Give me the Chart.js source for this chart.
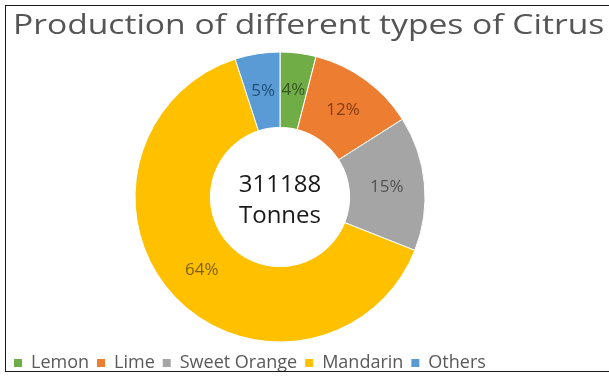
<!DOCTYPE html>
<html><head><meta charset="utf-8">
<script src="https://cdn.jsdelivr.net/npm/chart.js@4.4.1/dist/chart.umd.min.js"></script>
<style>
html,body{margin:0;padding:0;background:#fff;overflow:hidden;width:609px;height:377px;}
#wrap{position:absolute;left:6px;top:6px;width:603px;height:376px;}
#frame{position:absolute;left:5px;top:5px;width:620px;height:365px;border:1px solid #1a1a1a;border-right:none;pointer-events:none;}
</style></head><body>
<div id="wrap"><canvas id="c" width="603" height="376"></canvas></div>
<div id="frame"></div>
<script>
const titleText = 'Production of different types of Citrus';
const categories = ['Lemon', 'Lime', 'Sweet Orange', 'Mandarin', 'Others'];
const shares = [4, 12, 15, 64, 5];
const sliceColors = ['#70AD47', '#ED7D31', '#A5A5A5', '#FFC000', '#5B9BD5'];
const labelColors = ['#375623', '#843C0C', '#525252', '#7F6000', '#1F4E79'];
const centerLines = ['311188', 'Tonnes'];

const titlePlugin = {
  id: 'stretchTitle',
  afterDraw(chart) {
    const ctx = chart.ctx;
    ctx.save();
    ctx.font = '28px "Open Sans"';
    ctx.fillStyle = '#555555';
    ctx.textBaseline = 'alphabetic';
    ctx.textAlign = 'left';
    ctx.translate(7, 28);
    ctx.scale(1.2, 1);
    ctx.fillText(titleText, 0, 0);
    ctx.restore();
  }
};

const labelPlugin = {
  id: 'sliceLabels',
  afterDatasetsDraw(chart) {
    const meta = chart.getDatasetMeta(0);
    const ctx = chart.ctx;
    ctx.save();
    ctx.textAlign = 'center';
    ctx.textBaseline = 'middle';
    ctx.font = '17px "Open Sans"';
    meta.data.forEach((arc, i) => {
      const p = arc.tooltipPosition();
      ctx.fillStyle = labelColors[i];
      ctx.fillText(shares[i] + '%', p.x, p.y);
    });
    const c = meta.data[0];
    ctx.textBaseline = 'alphabetic';
    ctx.font = '24px "Open Sans"';
    ctx.fillStyle = '#1a1a1a';
    ctx.fillText(centerLines[0], c.x, c.y - 5);
    ctx.fillText(centerLines[1], c.x, c.y + 26);
    ctx.restore();
  }
};

new Chart(document.getElementById('c'), {
  type: 'doughnut',
  data: {
    labels: categories,
    datasets: [{
      data: shares,
      backgroundColor: sliceColors,
      borderColor: '#ffffff',
      borderWidth: 1,
      radius: 145,
      cutout: '48%'
    }]
  },
  options: {
    responsive: false,
    animation: false,
    layout: { padding: { top: 42, left: 0, right: 55, bottom: 0 } },
    plugins: {
      title: { display: false },
      tooltip: { enabled: false },
      legend: {
        position: 'bottom',
        align: 'start',
        labels: {
          boxWidth: 8,
          boxHeight: 8,
          padding: 8,
          color: '#595959',
          font: { family: "'Open Sans'", size: 18 },
          generateLabels(chart) {
            const items = Chart.overrides.doughnut.plugins.legend.labels.generateLabels(chart);
            items.forEach(it => { it.lineWidth = 0; it.strokeStyle = it.fillStyle; });
            return items;
          }
        }
      }
    }
  },
  plugins: [titlePlugin, labelPlugin]
});
</script>
</body></html>
